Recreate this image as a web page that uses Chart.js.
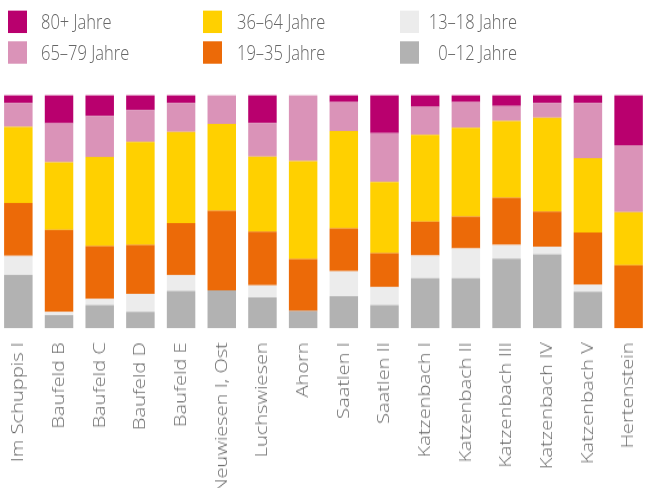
<!DOCTYPE html>
<html>
<head>
<meta charset="utf-8">
<script src="https://cdn.jsdelivr.net/npm/chart.js@4.4.1/dist/chart.umd.min.js"></script>
<style>
  html, body { margin: 0; padding: 0; width: 655px; height: 488px; overflow: hidden; background: #fff; }
  /* the reference picture is stretched vertically; reproduce that stretch */
  #stage { position: absolute; left: 0; top: 0; width: 655px; height: 414px; transform: scaleY(1.18); transform-origin: 0 0; }
  #wrap { position: absolute; left: -2px; top: 0; width: 663px; height: 414px; }
  #legend { position: absolute; left: 0; top: 0; width: 655px; height: 70px; font-family: "Open Sans", sans-serif; font-weight: 300; font-size: 16.5px; color: #666; }
  .box { position: absolute; width: 19px; height: 19px; }
  .lbl { position: absolute; line-height: 19px; white-space: nowrap; }
</style>
</head>
<body>
<div id="stage">
<div id="wrap"><canvas id="c" width="663" height="414"></canvas></div>
<div id="legend"></div>
</div>
<script>
const categories = ["Im Schuppis I", "Baufeld B", "Baufeld C", "Baufeld D", "Baufeld E", "Neuwiesen I, Ost", "Luchswiesen", "Ahorn", "Saatlen I", "Saatlen II", "Katzenbach I", "Katzenbach II", "Katzenbach III", "Katzenbach IV", "Katzenbach V", "Hertenstein"];

const age0_12  = [22.8, 5.6, 9.9, 7.0, 15.9, 16.2, 13.2, 7.3, 13.7, 9.9, 21.4, 21.4, 29.7, 31.6, 15.6, 0];
const age13_18 = [8.2, 1.3, 2.6, 7.7, 6.9, 0, 5.1, 0, 10.7, 7.7, 9.8, 12.8, 6.0, 3.4, 3.0, 0];
const age19_35 = [22.7, 35.3, 22.7, 21.0, 22.3, 34.2, 23.1, 22.3, 18.4, 14.6, 14.5, 13.7, 20.3, 15.0, 22.4, 27.0];
const age36_64 = [32.6, 28.9, 38.2, 44.2, 39.1, 37.2, 32.1, 42.1, 41.8, 30.5, 37.2, 38.0, 32.8, 40.2, 31.9, 22.7];
const age65_79 = [10.3, 16.8, 17.6, 13.7, 12.4, 12.4, 14.5, 28.3, 12.4, 21.0, 12.0, 11.1, 6.5, 6.4, 23.7, 28.8];
const age80    = [3.4, 12.1, 9.0, 6.4, 3.4, 0, 12.0, 0, 3.0, 16.3, 5.1, 3.0, 4.7, 3.4, 3.4, 21.5];

const seriesLabels = ["0–12 Jahre", "13–18 Jahre", "19–35 Jahre", "36–64 Jahre", "65–79 Jahre", "80+ Jahre"];
const seriesColors = ["#b2b2b2", "#ececec", "#ec6a08", "#ffd000", "#da93b8", "#b9006e"];
const seriesData = [age0_12, age13_18, age19_35, age36_64, age65_79, age80];

const datasets = seriesData.map((d, i) => ({
  label: seriesLabels[i],
  data: d,
  backgroundColor: seriesColors[i],
  borderWidth: 0,
  barPercentage: 0.7,
  categoryPercentage: 1.0
}));

new Chart(document.getElementById('c'), {
  type: 'bar',
  data: { labels: categories, datasets: datasets },
  options: {
    responsive: false,
    animation: false,
    layout: { padding: { top: 80.5, left: 0, right: 0, bottom: 0 } },
    plugins: { legend: { display: false }, tooltip: { enabled: false } },
    scales: {
      x: {
        stacked: true,
        grid: { display: false, drawTicks: false },
        border: { display: false },
        ticks: {
          minRotation: 90, maxRotation: 90, autoSkip: false, padding: 12,
          color: '#666',
          font: { family: '"Open Sans", sans-serif', size: 17, weight: 300 }
        },
        afterFit: (s) => { s.height = 136; }
      },
      y: { stacked: true, display: false, min: 0, max: 100 }
    }
  }
});

// legend (column-major, 3 columns x 2 rows)
const legendOrder = [5, 4, 3, 2, 1, 0];
const colBox = [8, 203, 400];
const colText = [41, 237, 432];
const rowTop = [9.3, 34.7];
const leg = document.getElementById('legend');
legendOrder.forEach((si, k) => {
  const col = Math.floor(k / 2), row = k % 2;
  const b = document.createElement('div');
  b.className = 'box';
  b.style.left = colBox[col] + 'px';
  b.style.top = rowTop[row] + 'px';
  b.style.background = seriesColors[si];
  leg.appendChild(b);
  const t = document.createElement('div');
  t.className = 'lbl';
  t.textContent = seriesLabels[si];
  t.style.top = rowTop[row] + 'px';
  if (col === 2) { t.style.right = (655 - 517) + 'px'; t.style.textAlign = 'right'; }
  else { t.style.left = colText[col] + 'px'; }
  leg.appendChild(t);
});
</script>
</body>
</html>
